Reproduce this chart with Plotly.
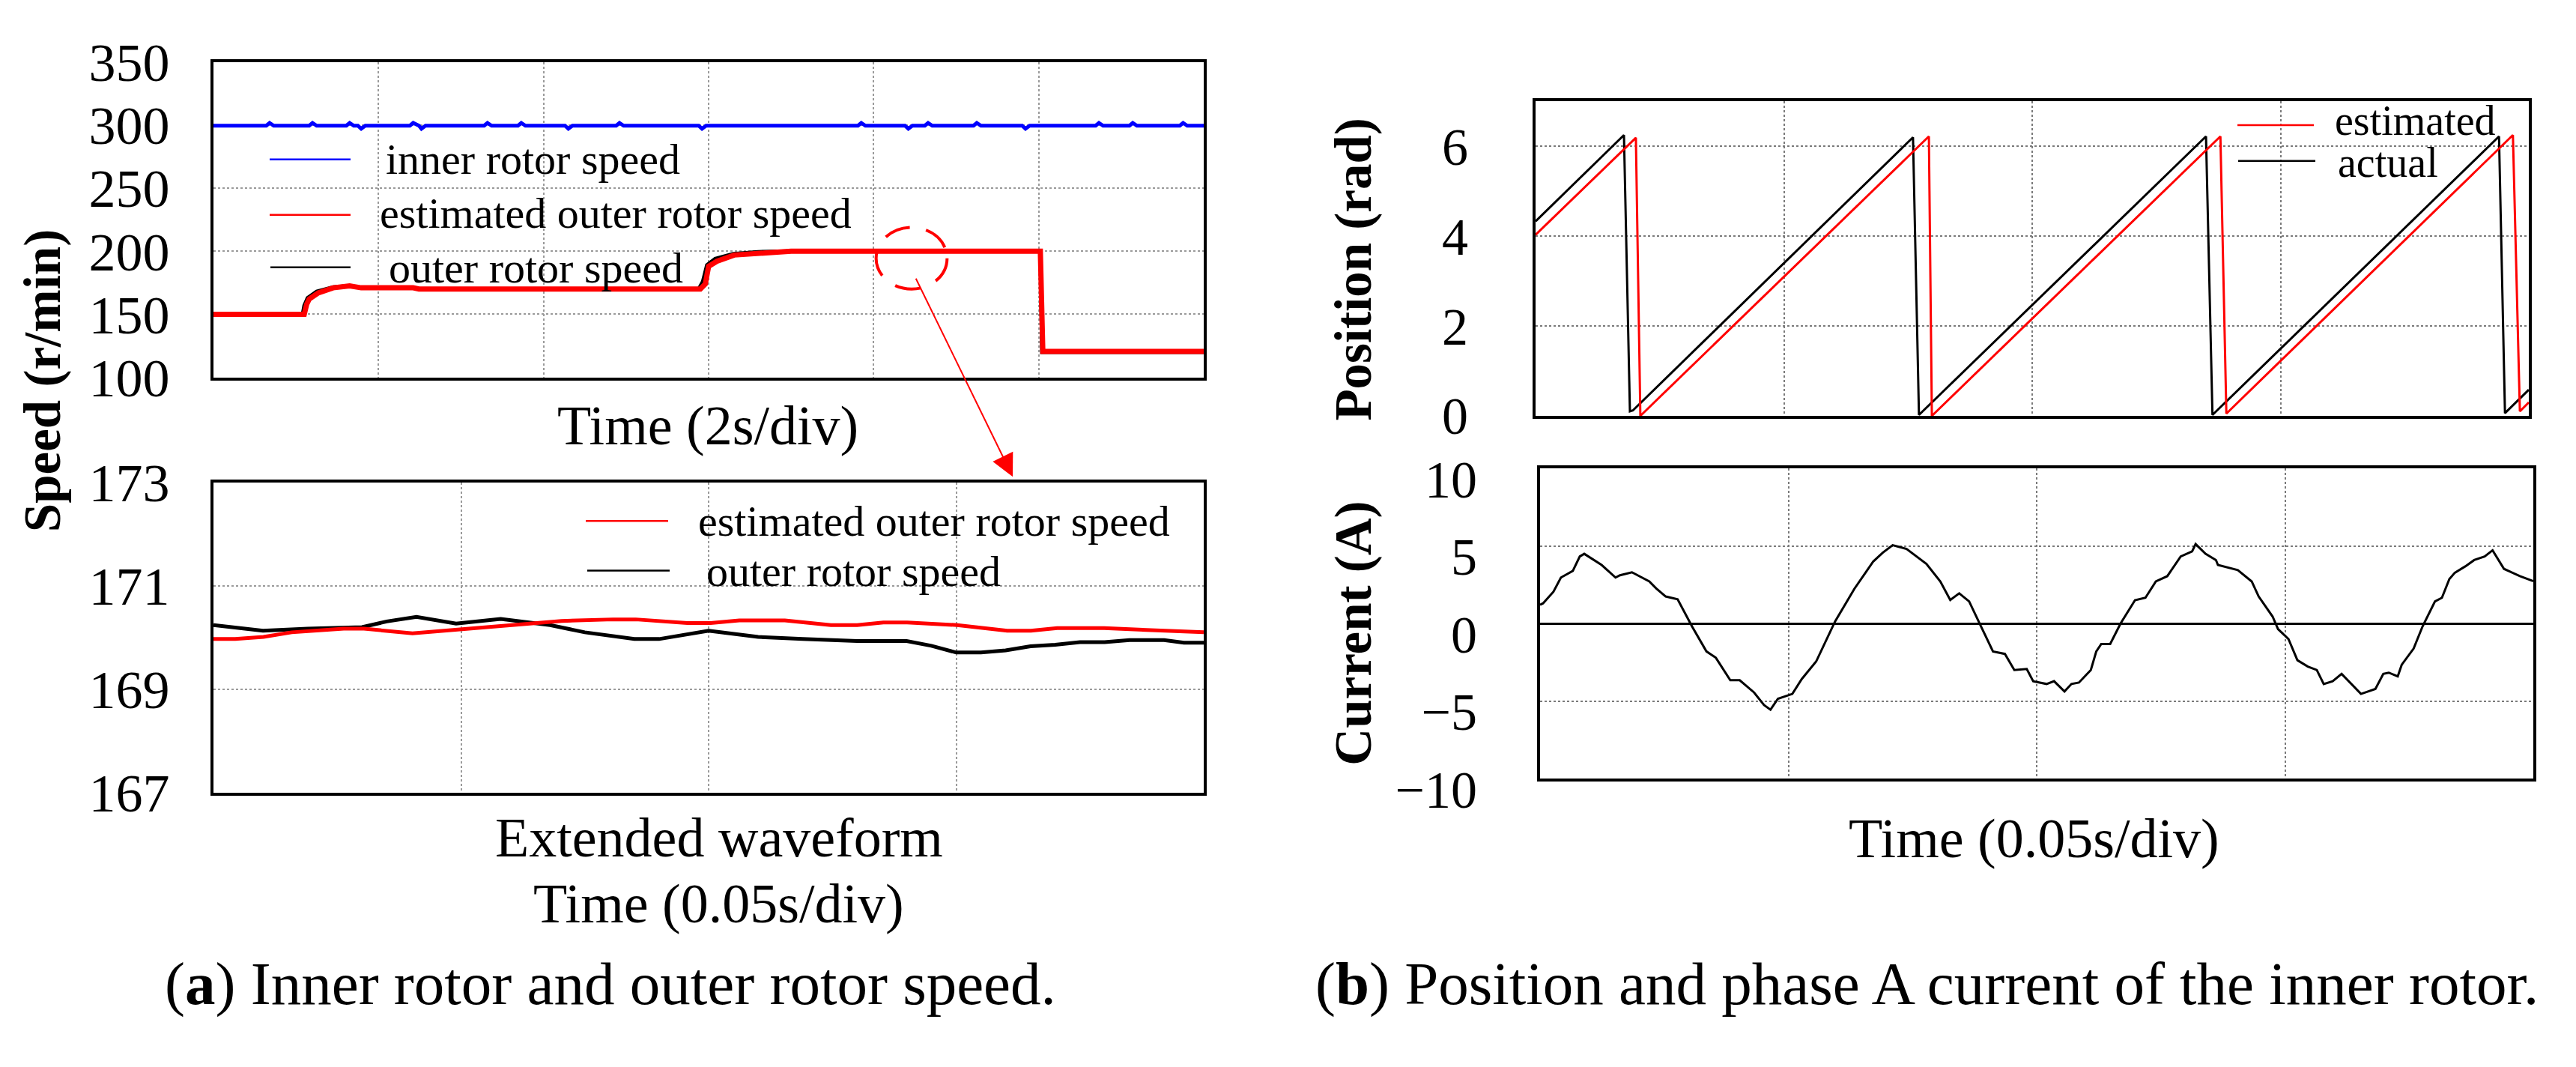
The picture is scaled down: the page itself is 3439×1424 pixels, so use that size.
import plotly.graph_objects as go

W, H = 3439, 1424
FONT = "Liberation Serif"

# ---------------- data ----------------
# (a) top: speeds, time in s (2 s/div, 6 div)
inner_t = [0.00, 0.64, 0.68, 0.73, 1.16, 1.20, 1.25, 1.61, 1.65, 1.70, 1.75, 1.79, 1.84,
           2.38, 2.42, 2.47, 2.49, 2.52, 2.57, 3.28, 3.32, 3.37, 3.69, 3.73, 3.78,
           4.26, 4.30, 4.35, 4.88, 4.92, 4.97, 5.88, 5.92, 5.97, 7.81, 7.85, 7.90,
           8.38, 8.42, 8.47, 8.62, 8.66, 8.71, 9.21, 9.25, 9.30, 9.80, 9.84, 9.89,
           10.69, 10.73, 10.78, 11.10, 11.14, 11.19, 11.71, 11.75, 11.80, 12.00]
inner_v = [299.6,
           299.6, 301.8, 299.6, 299.6, 301.8, 299.6, 299.6, 301.8, 299.6, 299.6, 297.2, 299.6,
           299.6, 301.8, 299.6, 299.6, 297.2, 299.6, 299.6, 301.8, 299.6, 299.6, 301.8, 299.6,
           299.6, 297.2, 299.6, 299.6, 301.8, 299.6, 299.6, 297.2, 299.6, 299.6, 301.8, 299.6,
           299.6, 297.2, 299.6, 299.6, 301.8, 299.6, 299.6, 301.8, 299.6, 299.6, 297.2, 299.6,
           299.6, 301.8, 299.6, 299.6, 301.8, 299.6, 299.6, 301.8, 299.6,
           299.6]
outer_est_t = [0, 1.10, 1.13, 1.16, 1.27, 1.45, 1.65, 1.79, 2.42, 2.49, 5.90, 5.96, 6.00,
               6.10, 6.31, 6.60, 6.80, 7.00, 10.02, 10.05, 12.0]
outer_est_v = [150, 150, 158, 162, 167, 171, 172.5, 171, 171, 170, 170, 174, 188,
               192, 197, 198.5, 199.5, 200, 200, 120.5, 120.5]
outer_act_t = [0, 1.08, 1.10, 1.14, 1.25, 1.45, 1.65, 1.79, 2.42, 2.49, 5.88, 5.93, 5.98,
               6.08, 6.30, 6.60, 7.00, 10.02, 10.04, 12.0]
outer_act_v = [150, 150, 157, 163, 168, 171.5, 172.5, 171, 171, 170, 170, 176, 189,
               194, 198, 199.5, 200, 200, 120, 120]

# (a) bottom: extended waveform, time in s (0.05 s/div, 4 div)
ext_act_t = [0, 0.010, 0.019, 0.030, 0.035, 0.041, 0.049, 0.058, 0.068, 0.075, 0.085, 0.090,
             0.100, 0.110, 0.119, 0.130, 0.140, 0.145, 0.150, 0.155, 0.160, 0.165, 0.170,
             0.175, 0.180, 0.185, 0.192, 0.196, 0.200]
ext_act_v = [170.24, 170.13, 170.17, 170.20, 170.31, 170.40, 170.27, 170.36, 170.24, 170.10,
             169.97, 169.97, 170.13, 170.01, 169.97, 169.93, 169.93, 169.84, 169.71, 169.71,
             169.75, 169.83, 169.86, 169.91, 169.91, 169.95, 169.95, 169.90, 169.90]
ext_est_t = [0, 0.0044, 0.0101, 0.0158, 0.0263, 0.0304, 0.0402, 0.0494, 0.0586, 0.0703,
             0.0807, 0.0853, 0.0957, 0.1004, 0.1062, 0.1154, 0.1247, 0.1300, 0.1353, 0.1401,
             0.1502, 0.1550, 0.1603, 0.1651, 0.1704, 0.1799, 0.1906, 0.2000]
ext_est_v = [169.97, 169.97, 170.01, 170.10, 170.17, 170.17, 170.08, 170.15, 170.23, 170.32,
             170.35, 170.35, 170.28, 170.28, 170.33, 170.33, 170.24, 170.24, 170.29, 170.29,
             170.24, 170.18, 170.13, 170.13, 170.18, 170.18, 170.14, 170.10]

# (b) top: position (rad), time in s
pos_act_t = [0.0, 0.0178, 0.0190, 0.0196, 0.0760, 0.0772, 0.1350, 0.1363, 0.1940, 0.1952, 0.2]
pos_act_v = [4.33, 6.25, 0.10, 0.12, 6.20, 0.02, 6.22, 0.02, 6.22, 0.06, 0.58]
pos_est_t = [0.0, 0.0202, 0.0211, 0.0792, 0.0798, 0.1379, 0.1391, 0.1968, 0.1982, 0.2]
pos_est_v = [4.03, 6.19, 0.0, 6.22, 0.0, 6.22, 0.05, 6.25, 0.10, 0.30]

# (b) bottom: phase A current (A), time in s
cur_t = [0.0, 0.0006, 0.0027, 0.0042, 0.0066, 0.0080, 0.0089, 0.0124, 0.0152, 0.0161, 0.0185,
         0.0220, 0.0234, 0.0253, 0.0277, 0.0306, 0.0335, 0.0354, 0.0383, 0.0402, 0.0431,
         0.0451, 0.0464, 0.0479, 0.0508, 0.0527, 0.0556, 0.0580, 0.0594, 0.0633, 0.0653,
         0.0671, 0.0690, 0.0710, 0.0738, 0.0778, 0.0806, 0.0826, 0.0844, 0.0864, 0.0888,
         0.0912, 0.0936, 0.0955, 0.0980, 0.0993, 0.1020, 0.1035, 0.1056, 0.1070, 0.1085,
         0.1109, 0.1120, 0.1130, 0.1148, 0.1169, 0.1198, 0.1219, 0.1240, 0.1263, 0.1290,
         0.1313, 0.1320, 0.1340, 0.1361, 0.1365, 0.1405, 0.1433, 0.1447, 0.1475, 0.1486,
         0.1507, 0.1525, 0.1546, 0.1564, 0.1578, 0.1596, 0.1614, 0.1653, 0.1682, 0.1698,
         0.1709, 0.1727, 0.1735, 0.1759, 0.1777, 0.1802, 0.1816, 0.1831, 0.1842, 0.1863,
         0.1881, 0.1902, 0.1918, 0.1941, 0.1973, 0.2000]
cur_v = [1.2, 1.3, 2.05, 2.96, 3.39, 4.32, 4.49, 3.77, 2.96, 3.11, 3.30,
         2.71, 2.26, 1.74, 1.56, -0.19, -1.80, -2.21, -3.66, -3.66, -4.45,
         -5.26, -5.56, -4.85, -4.54, -3.58, -2.45, -0.84, 0.13, 2.24, 3.19,
         4.00, 4.56, 5.05, 4.81, 3.84, 2.71, 1.51, 1.94, 1.42, -0.19,
         -1.80, -1.96, -3.00, -2.93, -3.72, -3.90, -3.72, -4.38, -3.90, -3.81,
         -3.00, -1.80, -1.32, -1.32, 0.00, 1.50, 1.66, 2.71, 3.05, 4.32,
         4.65, 5.12, 4.49, 4.09, 3.77, 3.44, 2.71, 1.74, 0.45, -0.36,
         -1.00, -2.37, -2.78, -3.00, -3.90, -3.72, -3.25, -4.54, -4.22, -3.25,
         -3.17, -3.41, -2.66, -1.62, -0.19, 1.42, 1.66, 2.87, 3.27, 3.68,
         4.09, 4.32, 4.72, 3.52, 3.05, 2.73]

# ---------------- figure ----------------
def PX(x):
    return x / W


def PY(y):
    return 1 - y / H


fig = go.Figure()
line = lambda c, w: dict(color=c, width=w)
fig.add_trace(go.Scatter(x=outer_act_t, y=outer_act_v, xaxis="x", yaxis="y", mode="lines", line=line("black", 5)))
fig.add_trace(go.Scatter(x=outer_est_t, y=outer_est_v, xaxis="x", yaxis="y", mode="lines", line=line("#ff0000", 7)))
fig.add_trace(go.Scatter(x=inner_t, y=inner_v, xaxis="x", yaxis="y", mode="lines", line=line("#0000ff", 5)))
fig.add_trace(go.Scatter(x=ext_act_t, y=ext_act_v, xaxis="x2", yaxis="y2", mode="lines", line=line("black", 5)))
fig.add_trace(go.Scatter(x=ext_est_t, y=ext_est_v, xaxis="x2", yaxis="y2", mode="lines", line=line("#ff0000", 5)))
fig.add_trace(go.Scatter(x=pos_act_t, y=pos_act_v, xaxis="x3", yaxis="y3", mode="lines", line=line("black", 3)))
fig.add_trace(go.Scatter(x=pos_est_t, y=pos_est_v, xaxis="x3", yaxis="y3", mode="lines", line=line("#ff0000", 3)))
fig.add_trace(go.Scatter(x=cur_t, y=cur_v, xaxis="x4", yaxis="y4", mode="lines", line=line("black", 3)))


def xax(d0, d1, anchor, rng, dtick, gcol):
    return dict(domain=[PX(d0), PX(d1)], anchor=anchor, range=rng, dtick=dtick,
                showticklabels=False, ticks="", showgrid=True, gridcolor=gcol,
                griddash="dot", gridwidth=1.5, zeroline=False, showline=True,
                mirror=True, linecolor="black", linewidth=4)


def yax(d0, d1, anchor, rng, tickvals, gcol, standoff, size, shift=0, zero=False):
    return dict(domain=[PY(d1), PY(d0)], anchor=anchor, range=rng, tickvals=tickvals,
                tickfont=dict(family=FONT, size=size, color="black"), ticks="",
                showgrid=True, gridcolor=gcol, griddash="dot", gridwidth=1.5,
                zeroline=zero, zerolinecolor="black", zerolinewidth=3, showline=True,
                mirror=True, linecolor="black", linewidth=4,
                ticklabelstandoff=standoff, ticklabelshift=shift)


fig.update_layout(
    width=W, height=H, margin=dict(l=0, r=0, t=0, b=0),
    paper_bgcolor="white", plot_bgcolor="white", showlegend=False,
    font=dict(family=FONT, color="black"),
    xaxis=xax(285, 1607, "y", [0, 12], 2, "#9a9a9a"),
    yaxis=yax(47, 497, "x", [100, 350], [100, 150, 200, 250, 300, 350], "#9a9a9a", 40, 72),
    xaxis2=xax(285, 1607, "y2", [0, 0.2], 0.05, "#9a9a9a"),
    yaxis2=yax(647, 1090, "x2", [167, 173], [167, 169, 171, 173], "#9a9a9a", 40, 72),
    xaxis3=xax(2050, 3376, "y3", [0, 0.2], 0.05, "#7a7a7a"),
    yaxis3=yax(103, 552, "x3", [0, 7], [0, 2, 4, 6], "#7a7a7a", 72, 70),
    xaxis4=xax(2056, 3382, "y4", [0, 0.2], 0.05, "#7a7a7a"),
    yaxis4=yax(627, 1070, "x4", [-10, 10], [-10, -5, 0, 5, 10], "#7a7a7a", 66, 70,
               shift=14, zero=True),
)

ann = []


def text(x, y, s, size, xanchor="center", angle=0):
    ann.append(dict(x=PX(x), y=PY(y), xref="paper", yref="paper", text=s, showarrow=False,
                    xanchor=xanchor, yanchor="middle", textangle=angle,
                    font=dict(family=FONT, size=size, color="black")))


text(945, 566, "Time (2s/div)", 74)
text(960, 1154, "Extended waveform", 74)
text(959, 1249, "Time (0.05s/div)", 74)
text(2715, 1155, "Time (0.05s/div)", 74)
text(815, 1363, "(<b>a</b>) Inner rotor and outer rotor speed.", 81)
text(2572, 1363, "(<b>b</b>) Position and phase A current of the inner rotor.", 81)
text(57, 502, "<b>Speed (r/min)</b>", 69, angle=-90)
text(1807, 343, "<b>Position (rad)</b>", 69, angle=-90)
text(1807, 862, "<b>Current (A)</b>", 69, angle=-90)

# legends (sample line + label)
shapes = []


def leg(x0, x1, y, color, w, label, tx, ty, size=58):
    shapes.append(dict(type="line", xref="paper", yref="paper", x0=PX(x0), x1=PX(x1),
                       y0=PY(y), y1=PY(y), line=dict(color=color, width=w)))
    text(tx, ty, label, size, xanchor="left")


leg(360, 468, 186, "#0000ff", 2.5, "inner rotor speed", 513, 186)
leg(360, 468, 265, "#ff0000", 2.5, "estimated outer rotor speed", 505, 263)
leg(361, 468, 340, "black", 2.5, "outer rotor speed", 517, 341)
leg(782, 892, 702, "#ff0000", 2.5, "estimated outer rotor speed", 930, 702)
leg(784, 894, 773, "black", 2.5, "outer rotor speed", 941, 774)
leg(2987, 3089, 137, "#ff0000", 2.5, "estimated", 3115, 131, size=56)
leg(2988, 3091, 188, "black", 2.5, "actual", 3119, 190, size=56)

# dashed zoom circle on the top speed plot and arrow to the extended view
shapes.append(dict(type="circle", xref="x", yref="y", x0=8.03, x1=8.89, y0=170, y1=218.9,
                   line=dict(color="#ff0000", width=4, dash="35px,22px")))
ann.append(dict(x=PX(1352), y=PY(639), xref="paper", yref="paper", text="", showarrow=True,
                ax=-130, ay=-266, axref="pixel", ayref="pixel", arrowhead=2, arrowsize=3,
                arrowwidth=2, arrowcolor="#ff0000", standoff=0))

fig.update_layout(annotations=ann, shapes=shapes)

fig.write_html("out.html", config={"displayModeBar": False},
               post_script="document.body.style.margin='0';")
